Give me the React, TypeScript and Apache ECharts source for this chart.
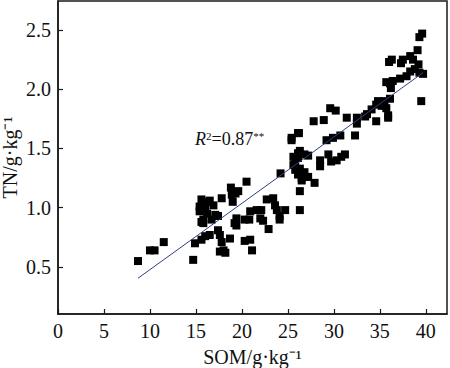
import React, { useEffect, useRef } from "react";
import * as echarts from "echarts";

const somValues: number[] = [
  8.7, 10.0, 10.5, 11.5, 14.7, 14.9, 15.6, 16.0, 16.5, 17.4, 17.6, 17.8, 18.7, 17.6, 18.0, 18.2, 20.3, 20.9, 21.1, 22.9,
  15.6, 16.2, 16.5, 16.9, 15.4, 16.0, 15.4, 16.2, 17.1, 17.4, 15.8, 15.8, 16.7, 15.6, 17.8, 18.8, 19.6, 18.9, 19.0, 20.5,
  19.4, 19.2, 19.4, 20.3, 20.9, 20.8, 21.6, 22.0, 22.1, 22.3, 22.7, 23.4, 23.6, 23.8, 24.1, 24.1, 24.7, 26.3, 26.3, 27.9,
  24.2, 19.3,
  25.4, 25.4, 26.1, 26.2, 25.6, 26.3, 26.1, 26.8, 27.2, 26.1, 25.6, 25.8, 25.8, 26.3, 26.8, 26.7, 26.1, 26.5, 27.2, 26.8,
  26.5, 28.5, 28.5, 29.4, 29.7, 30.3, 30.8, 31.2, 29.2, 29.9, 30.7, 27.8, 28.9, 29.6, 30.2,
  31.4, 32.5, 32.5, 32.3, 33.4, 33.6, 34.1, 34.6, 34.8, 35.2, 35.5, 35.7, 36.1, 35.9, 35.9, 34.6, 36.2, 35.7, 36.1, 36.4,
  37.2, 37.9, 38.3, 38.8, 39.2, 39.3, 39.7, 39.5, 36.3, 36.0, 37.3, 37.5, 38.3, 38.6, 39.1, 39.3, 39.6,
];
const tnValues: number[] = [
  0.55, 0.64, 0.64, 0.71, 0.56, 0.70, 0.73, 0.76, 0.77, 0.81, 0.77, 0.71, 0.74, 0.63, 0.64, 0.62, 0.72, 0.73, 0.64, 0.82,
  1.07, 1.05, 1.06, 1.02, 1.01, 1.00, 0.97, 0.95, 0.94, 0.93, 0.90, 0.87, 0.90, 0.88, 1.08, 1.17, 1.14, 1.11, 1.05, 1.22,
  0.91, 0.87, 0.85, 0.90, 0.97, 0.90, 0.98, 0.91, 0.98, 0.89, 1.07, 1.08, 1.02, 0.98, 0.93, 0.90, 0.98, 0.98, 1.14, 1.21,
  1.29, 1.12,
  1.59, 1.57, 1.63, 1.63, 1.43, 1.48, 1.46, 1.45, 1.44, 1.42, 1.36, 1.38, 1.32, 1.33, 1.30, 1.29, 1.28, 1.25, 1.26, 1.26,
  1.23, 1.40, 1.35, 1.45, 1.39, 1.40, 1.43, 1.45, 1.57, 1.59, 1.61, 1.73, 1.74, 1.84, 1.82,
  1.76, 1.76, 1.71, 1.61, 1.77, 1.79, 1.83, 1.87, 1.90, 1.86, 1.90, 1.84, 1.92, 1.78, 1.76, 1.73, 2.01, 2.06, 2.05, 2.07,
  2.09, 2.11, 2.15, 2.17, 2.21, 2.14, 2.13, 1.90, 2.25, 2.23, 2.22, 2.25, 2.28, 2.25, 2.33, 2.44, 2.47,
];

const fitX: number[] = [8.7, 39.7];
const fitY: number[] = [0.405, 2.14];

const xTicks: number[] = [0, 5, 10, 15, 20, 25, 30, 35, 40];
const yTicks: number[] = [0.5, 1.0, 1.5, 2.0, 2.5];

const FONT = "'Liberation Serif', 'Times New Roman', serif";

export default function App() {
  const ref = useRef<HTMLDivElement>(null);
  useEffect(() => {
    document.body.style.margin = "0";
    if (!ref.current) return;
    const chart = echarts.init(ref.current, null, { renderer: "svg" });
    const scatterData = somValues.map((x, i) => [x, tnValues[i]]);
    const lineData = fitX.map((x, i) => [x, fitY[i]]);
    chart.setOption({
      animation: false,
      backgroundColor: "#ffffff",
      textStyle: { fontFamily: FONT },
      grid: {
        left: 58,
        top: 1,
        right: 3,
        bottom: 54,
        outerBoundsMode: "none",
        containLabel: false,
        show: true,
        borderColor: "#1a1a1a",
        borderWidth: 1.5,
        backgroundColor: "transparent",
      },
      xAxis: {
        type: "value",
        min: 0,
        max: 42.3,
        name: "SOM/g·kg⁻¹",
        nameLocation: "middle",
        nameGap: 33,
        nameMoveOverlap: false,
        nameTextStyle: { fontFamily: FONT, fontSize: 20, color: "#111" },
        axisLine: { show: true, lineStyle: { color: "#1a1a1a", width: 1.5 } },
        axisTick: { show: true, inside: true, length: 5, customValues: xTicks, lineStyle: { color: "#1a1a1a", width: 1.2 } },
        axisLabel: {
          customValues: xTicks,
          fontFamily: FONT,
          fontSize: 20,
          color: "#111",
          margin: 7,
          formatter: (v: number) => String(v),
        },
        splitLine: { show: false },
      },
      yAxis: {
        type: "value",
        min: 0.103,
        max: 2.745,
        name: "TN/g·kg⁻¹",
        nameLocation: "middle",
        nameGap: 38,
        nameMoveOverlap: false,
        nameTextStyle: { fontFamily: FONT, fontSize: 20, color: "#111" },
        axisLine: { show: true, lineStyle: { color: "#1a1a1a", width: 1.5 } },
        axisTick: { show: true, inside: true, length: 5, customValues: yTicks, lineStyle: { color: "#1a1a1a", width: 1.2 } },
        axisLabel: {
          customValues: yTicks,
          fontFamily: FONT,
          fontSize: 20,
          color: "#111",
          margin: 7,
          formatter: (v: number) => v.toFixed(1),
        },
        splitLine: { show: false },
      },
      series: [
        {
          type: "scatter",
          data: scatterData,
          symbol: "rect",
          symbolSize: 8,
          itemStyle: { color: "#000000", opacity: 1 },
          z: 2,
        },
        {
          type: "line",
          data: lineData,
          symbol: "none",
          lineStyle: { color: "#2e3f86", width: 1 },
          z: 3,
        },
      ],
      graphic: [
        {
          type: "text",
          left: 195,
          top: 130,
          style: {
            text: "{i|R}{s|2}{n|=0.87}{s|**}",
            fontFamily: FONT,
            fill: "#111",
            rich: {
              i: { fontFamily: FONT, fontSize: 18, fontStyle: "italic", fill: "#111" },
              n: { fontFamily: FONT, fontSize: 18, fill: "#111" },
              s: { fontFamily: FONT, fontSize: 11, verticalAlign: "top", fill: "#111" },
            },
          },
        },
      ],
    });
    return () => chart.dispose();
  }, []);
  return <div ref={ref} style={{ width: 450, height: 368 }} />;
}
